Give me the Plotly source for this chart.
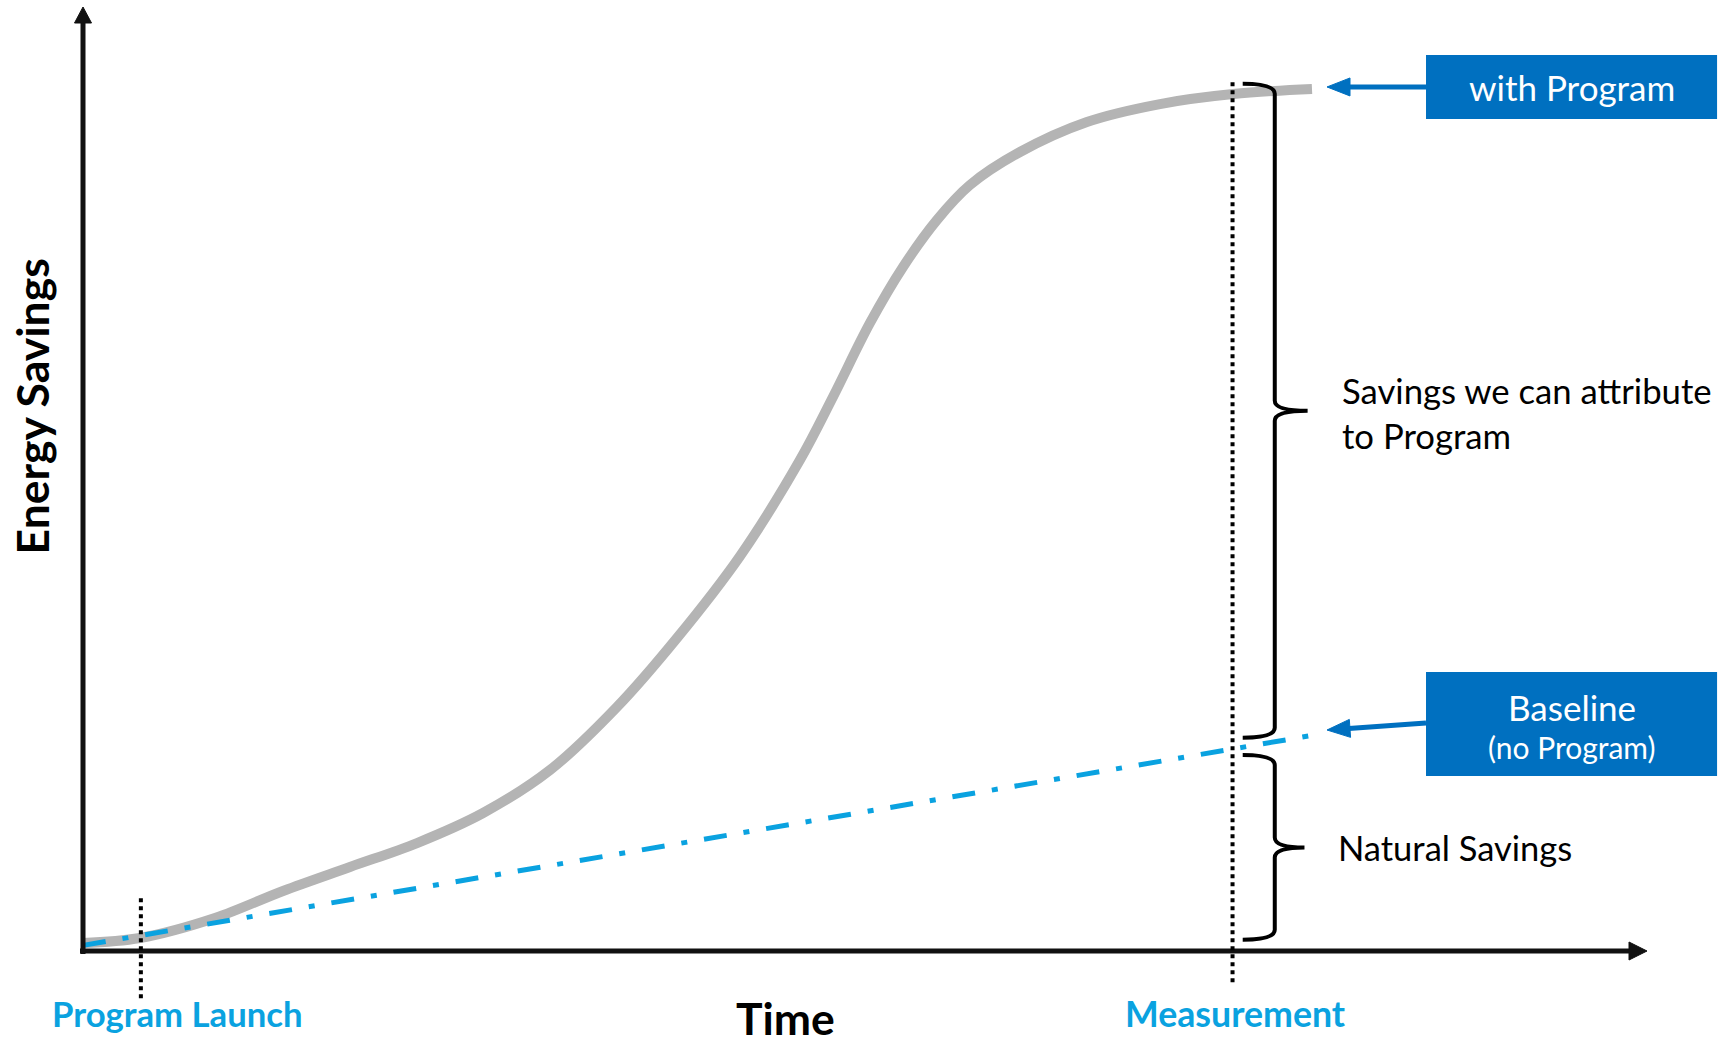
import plotly.graph_objects as go
import numpy as np

# ---------------- data ----------------
time_with_program = [0.0, 3.64, 8.44, 12.79, 17.07, 21.36, 25.58, 29.86, 34.14, 37.98, 42.01,
                     45.84, 47.95, 50.32, 52.43, 54.60, 56.71, 59.91, 64.19, 68.86, 73.53, 78.58]
savings_with_program = [0.85, 1.38, 3.50, 6.36, 8.90, 11.44, 14.62, 19.17, 25.85, 33.16, 41.84,
                        52.01, 58.69, 66.53, 72.46, 77.44, 81.14, 84.64, 87.82, 89.72, 90.78, 91.31]
time_baseline = [0, 78.8]
savings_baseline = [0.6, 22.9]
launch_time = 3.7
measurement_time = 73.5

# ---------------- layout constants ----------------
W, H = 1728, 1042
X0_PX, Y0_PX = 83, 951          # pixel position of the origin
PX_PER_X, PX_PER_Y = 15.64, 9.44
x_range = [-X0_PX / PX_PER_X, (W - X0_PX) / PX_PER_X]
y_range = [(Y0_PX - H) / PX_PER_Y, Y0_PX / PX_PER_Y]

BOX_BLUE = "#0070C0"
LIGHT_BLUE = "#0AA2E0"
GRAY = "#B4B4B4"
FONT = "Lato"


def to_px(x, y):
    return X0_PX + x * PX_PER_X, Y0_PX - y * PX_PER_Y


def to_data(px, py):
    return (px - X0_PX) / PX_PER_X, (Y0_PX - py) / PX_PER_Y


fig = go.Figure()

# S-curve "with Program"
fig.add_trace(go.Scatter(
    x=time_with_program, y=savings_with_program, mode="lines",
    line=dict(color=GRAY, width=10, shape="spline", smoothing=1.0),
    hoverinfo="skip"))

# Baseline dash-dot
fig.add_trace(go.Scatter(
    x=time_baseline, y=savings_baseline, mode="lines",
    line=dict(color=LIGHT_BLUE, width=5, dash="23px,17px,6px,17px"),
    hoverinfo="skip"))

shapes = []


def arrow(x0, y0, x1, y1, color, width, head_len, head_w):
    """Shaft + filled triangular head; head sizes in pixels."""
    p0 = np.array(to_px(x0, y0))
    p1 = np.array(to_px(x1, y1))
    d = p1 - p0
    d = d / np.linalg.norm(d)
    n = np.array([-d[1], d[0]])
    base = p1 - d * head_len
    shaft_end = to_data(*(p1 - d * head_len * 0.8))
    shapes.append(dict(type="line", xref="x", yref="y", x0=x0, y0=y0,
                       x1=shaft_end[0], y1=shaft_end[1],
                       line=dict(color=color, width=width)))
    a = to_data(*(base + n * head_w / 2))
    b = to_data(*(base - n * head_w / 2))
    shapes.append(dict(type="path", xref="x", yref="y",
                       path=f"M {x1},{y1} L {a[0]},{a[1]} L {b[0]},{b[1]} Z",
                       fillcolor=color, line=dict(color=color, width=1)))


# axes with arrow heads
axis_x0 = to_data(X0_PX - 3, Y0_PX)[0]
arrow(axis_x0, 0, 100, 0, "#111111", 5, 18, 18)
arrow(0, to_data(0, Y0_PX + 3)[1], 0, 100, "#111111", 5, 16, 17)

# dotted vertical markers
shapes.append(dict(type="line", xref="x", yref="y", x0=launch_time, x1=launch_time,
                   y0=-5.0, y1=5.6, line=dict(color="black", width=4, dash="dot")))
shapes.append(dict(type="line", xref="x", yref="y", x0=measurement_time, x1=measurement_time,
                   y0=-3.3, y1=92.1, line=dict(color="black", width=4, dash="dot")))

# braces
with_at_meas = float(np.interp(measurement_time, time_with_program, savings_with_program))
base_at_meas = float(np.interp(measurement_time, time_baseline, savings_baseline))


def brace(top, bottom, x_left, x_spine, x_tip):
    ry = 10 / PX_PER_Y
    mid = (top + bottom) / 2
    path = (f"M {x_left},{top} Q {x_spine},{top} {x_spine},{top - ry} "
            f"L {x_spine},{mid + ry} Q {x_spine},{mid} {x_tip},{mid} "
            f"Q {x_spine},{mid} {x_spine},{mid - ry} "
            f"L {x_spine},{bottom + ry} Q {x_spine},{bottom} {x_left},{bottom}")
    shapes.append(dict(type="path", xref="x", yref="y", path=path,
                       line=dict(color="black", width=4)))


brace(with_at_meas + 1.1, base_at_meas + 1.2,
      measurement_time + 0.65, measurement_time + 2.7, measurement_time + 4.8)
brace(base_at_meas - 0.65, 1.2,
      measurement_time + 0.65, measurement_time + 2.7, measurement_time + 4.6)

# label boxes
BOX_X0, BOX_X1 = 85.87, 104.48
shapes.append(dict(type="rect", xref="x", yref="y", x0=BOX_X0, x1=BOX_X1, y0=88.14, y1=94.92,
                   fillcolor=BOX_BLUE, line=dict(width=0)))
shapes.append(dict(type="rect", xref="x", yref="y", x0=BOX_X0, x1=BOX_X1, y0=18.54, y1=29.56,
                   fillcolor=BOX_BLUE, line=dict(width=0)))

# pointer arrows from boxes
arrow(BOX_X0, 91.53, 79.54, 91.53, BOX_BLUE, 5, 23, 18)
arrow(BOX_X0, 24.15, 79.54, 23.41, BOX_BLUE, 5, 23, 18)

box_cx = (BOX_X0 + BOX_X1) / 2
annotations = [
    dict(x=box_cx, y=91.53, text="with Program", font=dict(family=FONT, size=35, color="white")),
    dict(x=box_cx, y=25.85, text="Baseline", font=dict(family=FONT, size=35, color="white")),
    dict(x=box_cx, y=21.6, text="(no Program)", font=dict(family=FONT, size=30, color="white")),
    dict(x=80.37, y=57.0, text="Savings we can attribute<br>to Program", xanchor="left",
         align="left", font=dict(family=FONT, size=34.7, color="black")),
    dict(x=80.1, y=11.0, text="Natural Savings", xanchor="left",
         font=dict(family=FONT, size=34.5, color="black")),
    dict(x=6.07, y=-6.57, text="<b>Program Launch</b>",
         font=dict(family=FONT, size=34.7, color=LIGHT_BLUE)),
    dict(x=73.66, y=-6.57, text="<b>Measurement</b>",
         font=dict(family=FONT, size=35.7, color=LIGHT_BLUE)),
    dict(x=44.9, y=-7.0, text="<b>Time</b>", font=dict(family=FONT, size=44.5, color="black")),
    dict(x=-3.32, y=57.7, text="<b>Energy Savings</b>", textangle=-90,
         font=dict(family=FONT, size=44.5, color="black")),
]
for a in annotations:
    a.update(xref="x", yref="y", showarrow=False)
    a.setdefault("xanchor", "center")
    a.setdefault("yanchor", "middle")

fig.update_layout(
    width=W, height=H,
    margin=dict(l=0, r=0, t=0, b=0),
    paper_bgcolor="white", plot_bgcolor="white",
    showlegend=False, hovermode=False,
    xaxis=dict(range=x_range, visible=False, fixedrange=True),
    yaxis=dict(range=y_range, visible=False, fixedrange=True),
    shapes=shapes, annotations=annotations,
)

fig.write_html("out.html", config={"displayModeBar": False},
               post_script="document.body.style.margin='0';document.body.style.overflow='hidden';")
